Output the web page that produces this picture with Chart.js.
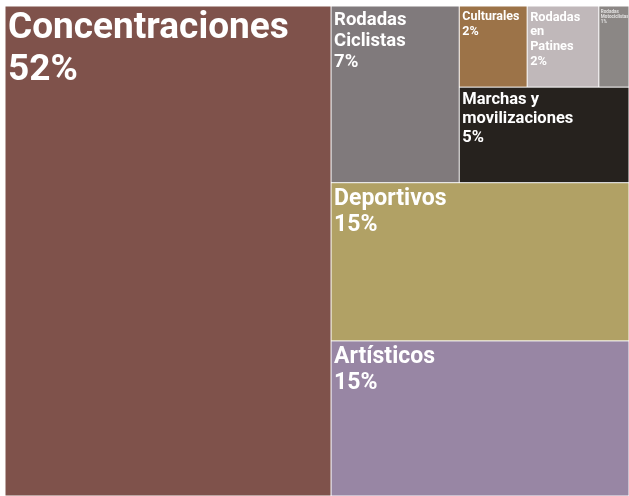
<!DOCTYPE html>
<html>
<head>
<meta charset="utf-8">
<script src="https://cdn.jsdelivr.net/npm/chart.js@4"></script>
<style>
  html, body { margin: 0; padding: 0; background: #ffffff; }
  #wrap { width: 629px; height: 496px; position: relative; }
</style>
</head>
<body>
<div id="wrap"><canvas id="chart-treemap"></canvas></div>
<script>
// datos del treemap (orden de colocación)
const categories = [
  "Concentraciones",
  "Artísticos",
  "Deportivos",
  "Rodadas Ciclistas",
  "Marchas y movilizaciones",
  "Culturales",
  "Rodadas en Patines",
  "Rodadas Motociclistas",
];
const values = [52.2, 15.1, 15.4, 7.4, 5.3, 1.8, 1.9, 0.8];

// estilos
const colors = [
  "#7f524b",
  "#9886a4",
  "#b1a165",
  "#807a7c",
  "#26221e",
  "#9c7348",
  "#c0b8ba",
  "#8b8785",
];
const fontSizes = [37, 23, 23, 18.5, 16.5, 12.5, 12.8, 4.6];

function worst(row, side) {
  const s = row.reduce((a, b) => a + b, 0);
  const rMax = Math.max(...row);
  const rMin = Math.min(...row);
  return Math.max((side * side * rMax) / (s * s), (s * s) / (side * side * rMin));
}

// squarify: franjas verticales a la izquierda, horizontales abajo
function squarify(vals, rect) {
  const total = vals.reduce((a, b) => a + b, 0);
  const areas = vals.map((v) => (v / total) * rect.w * rect.h);
  const out = [];
  let r = { ...rect };
  let i = 0;
  while (i < areas.length) {
    const vertical = r.w >= r.h;
    const side = vertical ? r.h : r.w;
    let row = [areas[i]];
    let j = i + 1;
    while (j < areas.length && worst(row.concat(areas[j]), side) <= worst(row, side)) {
      row.push(areas[j]);
      j++;
    }
    const rowArea = row.reduce((a, b) => a + b, 0);
    if (vertical) {
      const sw = rowArea / r.h;
      let y = r.y;
      row.forEach((a, k) => {
        const hh = a / sw;
        out[i + k] = { x: r.x, y: y, w: sw, h: hh };
        y += hh;
      });
      r.x += sw;
      r.w -= sw;
    } else {
      const sh = rowArea / r.w;
      let x = r.x;
      const y = r.y + r.h - sh;
      row.forEach((a, k) => {
        const ww = a / sh;
        out[i + k] = { x: x, y: y, w: ww, h: sh };
        x += ww;
      });
      r.h -= sh;
    }
    i = j;
  }
  return out;
}

function wrapText(ctx, text, maxW) {
  const words = text.split(" ");
  const lines = [];
  let cur = "";
  words.forEach((w) => {
    const test = cur ? cur + " " + w : w;
    if (cur && ctx.measureText(test).width > maxW) {
      lines.push(cur);
      cur = w;
    } else {
      cur = test;
    }
  });
  if (cur) lines.push(cur);
  return lines;
}

const treemapPlugin = {
  id: "treemap",
  afterDatasetsDraw(chart) {
    const ctx = chart.ctx;
    const xs = chart.scales.x;
    const ys = chart.scales.y;
    const left = xs.getPixelForValue(0);
    const right = xs.getPixelForValue(1);
    const top = ys.getPixelForValue(1);
    const bottom = ys.getPixelForValue(0);
    const rects = squarify(values, { x: left, y: top, w: right - left, h: bottom - top });
    const total = values.reduce((a, b) => a + b, 0);
    const gap = 1;

    ctx.save();
    rects.forEach((rc, i) => {
      ctx.fillStyle = colors[i];
      ctx.fillRect(rc.x + gap / 2, rc.y + gap / 2, rc.w - gap, rc.h - gap);

      const fs = fontSizes[i];
      const pad = fs < 8 ? 2 : 3;
      ctx.font = `bold ${fs}px Roboto, "Noto Sans", sans-serif`;
      ctx.fillStyle = fs < 8 ? "rgba(255,255,255,0.75)" : "#ffffff";
      ctx.textBaseline = "alphabetic";
      ctx.textAlign = "left";
      const lines = wrapText(ctx, categories[i], rc.w - pad * 2 - 10);
      lines.push(Math.round((values[i] / total) * 100) + "%");
      const lh = fs * 1.15;
      const firstBase = rc.y + (fs < 8 ? 3.5 : 5.5) + fs * 0.711;
      ctx.save();
      ctx.beginPath();
      ctx.rect(rc.x, rc.y, rc.w - gap, rc.h - gap);
      ctx.clip();
      lines.forEach((ln, k) => {
        ctx.fillText(ln, rc.x + pad, firstBase + k * lh);
      });
      ctx.restore();
    });
    ctx.restore();
  },
};

const ctx = document.getElementById("chart-treemap").getContext("2d");
new Chart(ctx, {
  type: "scatter",
  data: { datasets: [{ data: [] }] },
  plugins: [treemapPlugin],
  options: {
    responsive: true,
    maintainAspectRatio: false,
    animation: false,
    layout: { padding: { left: 5, top: 6, right: 0, bottom: 0 } },
    scales: {
      x: { type: "linear", min: 0, max: 1, display: false },
      y: { type: "linear", min: 0, max: 1, display: false },
    },
    plugins: {
      legend: { display: false },
      tooltip: { enabled: false },
    },
  },
});
</script>
</body>
</html>
